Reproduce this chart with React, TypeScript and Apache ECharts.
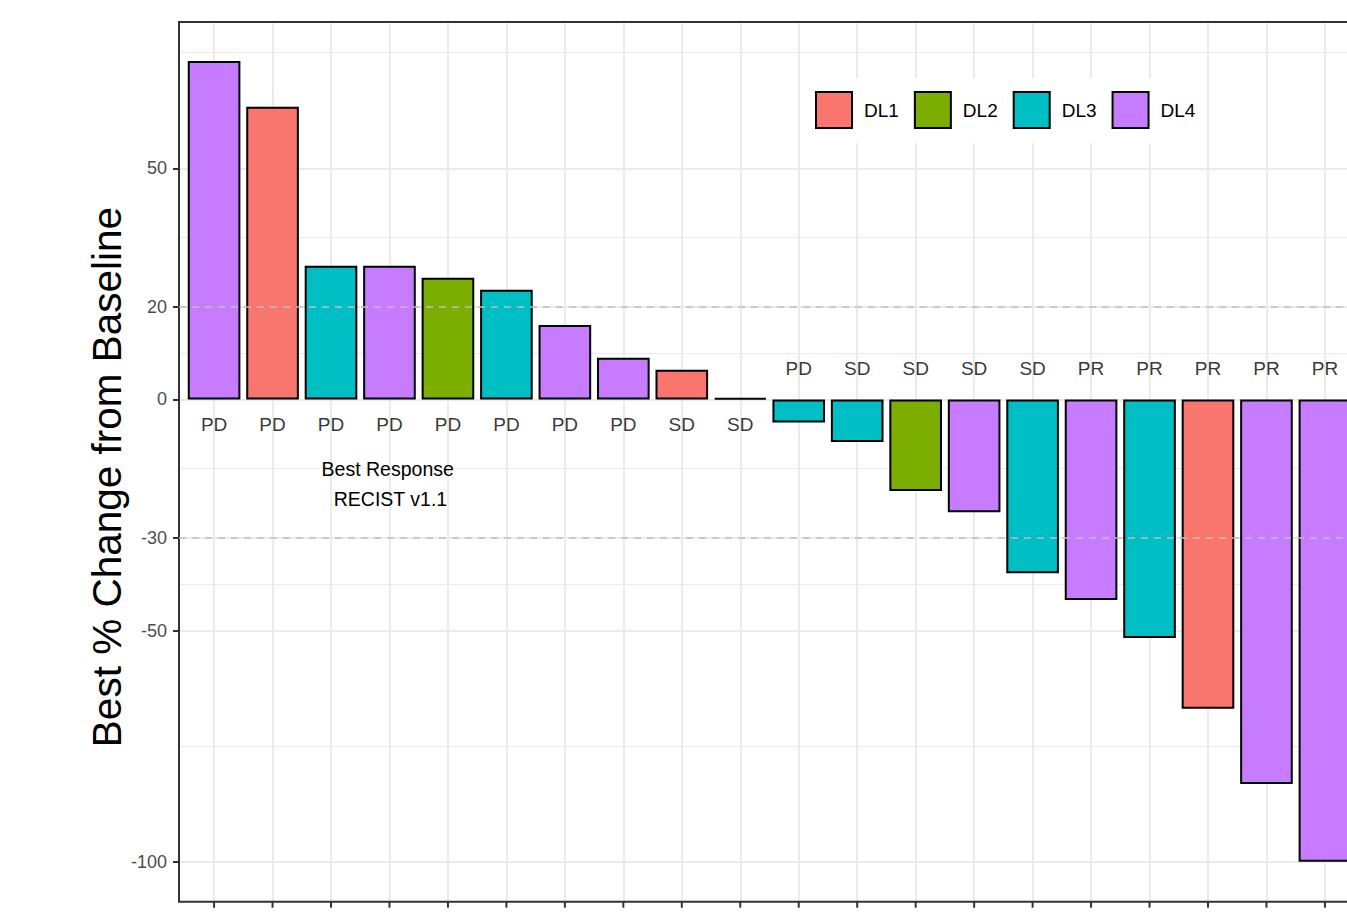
import { useEffect, useRef } from "react";
import * as echarts from "echarts";

// Waterfall of best percentage change in target lesions, one bar per patient
const patientPositions = [1, 2, 3, 4, 5, 6, 7, 8, 9, 10, 11, 12, 13, 14, 15, 16, 17, 18, 19, 20];
const bestChange = [
  73.2, 63.3, 28.9, 28.9, 26.3, 23.7, 16.1, 9.0, 6.4, 0.3,
  -5.0, -9.2, -19.8, -24.4, -37.6, -43.4, -51.6, -66.9, -83.2, -100,
];
const doseLevel = [
  "DL4", "DL1", "DL3", "DL4", "DL2", "DL3", "DL4", "DL4", "DL1", "DL3",
  "DL3", "DL3", "DL2", "DL4", "DL3", "DL4", "DL3", "DL1", "DL4", "DL4",
];
const bestResponse = [
  "PD", "PD", "PD", "PD", "PD", "PD", "PD", "PD", "SD", "SD",
  "PD", "SD", "SD", "SD", "SD", "PR", "PR", "PR", "PR", "PR",
];
const doseLevelNames = ["DL1", "DL2", "DL3", "DL4"];
const doseLevelColors = ["#F8766D", "#7CAE00", "#00BFC4", "#C77CFF"];
const yBreaks = [-100, -50, -30, 0, 20, 50];
const yMinorBreaks = [-75, -40, -15, 10, 35, 75];
const thresholdLines = [20, -30];
const annotationLines = ["Best Response", " RECIST v1.1"];
const annotationAt = [3.97, -18.3];

const FONT = "'Liberation Sans', Arial, Helvetica, sans-serif";
const PANEL = { left: 179, top: 22, width: 1181, height: 879.7 };
const X_MIN = 0.4;
const X_MAX = 20.6;
const Y_MIN = -108.66;
const Y_MAX = 81.64;
const BAR_WIDTH = (0.9 * PANEL.width) / (X_MAX - X_MIN);
const TICK_LEN = 6;

const GRID_MAJOR = { color: "#EBEBEB", width: 2, type: "solid" as const };
const GRID_MINOR = { color: "#EBEBEB", width: 1.1, type: "solid" as const };

function buildOption() {
  const barSeries = doseLevelNames.map((name, k) => {
    const data = patientPositions
      .map((x, i) => (doseLevel[i] === name ? [x, bestChange[i]] : null))
      .filter((d) => d !== null);
    const series: any = {
      type: "bar",
      name,
      barWidth: BAR_WIDTH,
      barGap: "-100%",
      z: 2,
      itemStyle: { color: doseLevelColors[k], borderColor: "#000", borderWidth: 2 },
      emphasis: { disabled: true },
      data,
    };
    if (k === doseLevelNames.length - 1) {
      series.markLine = {
        silent: true,
        z: 12,
        symbol: ["none", "none"],
        label: { show: false },
        lineStyle: { color: "#BEBEBE", width: 1.6, type: [7, 6] },
        data: thresholdLines.map((v) => ({ yAxis: v })),
      };
    }
    return series;
  });

  const responseSeries: any = {
    type: "scatter",
    name: "Best Response",
    symbol: "rect",
    symbolSize: 1,
    silent: true,
    z: 3,
    itemStyle: { color: "rgba(0,0,0,0)" },
    label: {
      show: true,
      position: "inside",
      color: "#000",
      fontSize: 19,
      fontFamily: FONT,
      formatter: (p: any) => bestResponse[p.dataIndex],
    },
    data: patientPositions.map((x, i) => ({
      value: [x, 0],
      label: { offset: [0, bestChange[i] >= 0 ? 25 : -31] },
    })),
    markLine: {
      silent: true,
      z: 1,
      symbol: ["none", "none"],
      label: { show: false },
      data: [
        ...yMinorBreaks.map((v) => ({ yAxis: v, lineStyle: GRID_MINOR })),
        ...yBreaks.map((v) => ({ yAxis: v, lineStyle: GRID_MAJOR })),
        ...patientPositions.map((x) => ({ xAxis: x, lineStyle: GRID_MAJOR })),
      ],
    },
    markPoint: {
      silent: true,
      z: 3,
      symbol: "rect",
      symbolSize: 1,
      itemStyle: { color: "rgba(0,0,0,0)" },
      label: {
        show: true,
        position: "inside",
        formatter: annotationLines.join("\n"),
        color: "#000",
        fontSize: 19.5,
        lineHeight: 30,
        fontFamily: FONT,
        align: "center",
      },
      data: [{ coord: annotationAt }],
    },
  };

  // Small outward tick under each patient position along the panel's lower edge
  const xTickSeries: any = {
    type: "custom",
    name: "x ticks",
    silent: true,
    clip: false,
    z: 11,
    data: patientPositions.map((x) => [x, Y_MIN]),
    renderItem: (params: any, api: any) => {
      const p = api.coord([api.value(0), api.value(1)]);
      return {
        type: "line",
        shape: { x1: p[0], y1: p[1], x2: p[0], y2: p[1] + TICK_LEN },
        style: { stroke: "#333333", lineWidth: 2 },
      };
    },
  };

  return {
    animation: false,
    backgroundColor: "#ffffff",
    grid: {
      ...PANEL,
      show: true,
      z: 10,
      backgroundColor: "rgba(0,0,0,0)",
      borderColor: "#333333",
      borderWidth: 2,
    },
    legend: {
      data: doseLevelNames,
      left: 800,
      top: 78,
      orient: "horizontal",
      icon: "rect",
      itemWidth: 36,
      itemHeight: 36,
      itemGap: 15,
      padding: [13, 11, 14, 15],
      backgroundColor: "#ffffff",
      selectedMode: false,
      z: 5,
      itemStyle: { borderColor: "#000", borderWidth: 2 },
      textStyle: { color: "#000", fontSize: 19, fontFamily: FONT, padding: [0, 0, 0, 7] },
    },
    xAxis: {
      type: "value",
      min: X_MIN,
      max: X_MAX,
      axisLine: { show: false },
      splitLine: { show: false },
      axisLabel: { show: false },
      axisTick: { show: false },
    },
    yAxis: {
      type: "value",
      min: Y_MIN,
      max: Y_MAX,
      axisLine: { show: false },
      splitLine: { show: false },
      axisTick: {
        show: true,
        customValues: yBreaks,
        length: TICK_LEN,
        lineStyle: { color: "#333333", width: 2 },
      },
      axisLabel: {
        customValues: yBreaks,
        color: "#4D4D4D",
        fontSize: 18,
        margin: 12,
        fontFamily: FONT,
      },
    },
    graphic: [
      {
        type: "text",
        x: 107,
        y: 477,
        rotation: Math.PI / 2,
        silent: true,
        style: {
          text: "Best % Change from Baseline",
          fontSize: 40.5,
          fontFamily: FONT,
          fill: "#000",
          align: "center",
          verticalAlign: "middle",
        },
      },
    ],
    series: [...barSeries, responseSeries, xTickSeries],
  };
}

export default function App() {
  const ref = useRef<HTMLDivElement>(null);

  useEffect(() => {
    if (!ref.current) return;
    const chart = echarts.init(ref.current, undefined, { renderer: "svg" });
    chart.setOption(buildOption() as any);
    return () => chart.dispose();
  }, []);

  return (
    <div
      style={{
        position: "fixed",
        left: 0,
        top: 0,
        width: 1347,
        height: 913,
        overflow: "hidden",
        background: "#ffffff",
      }}
    >
      <div ref={ref} style={{ width: 1380, height: 913 }} />
    </div>
  );
}
